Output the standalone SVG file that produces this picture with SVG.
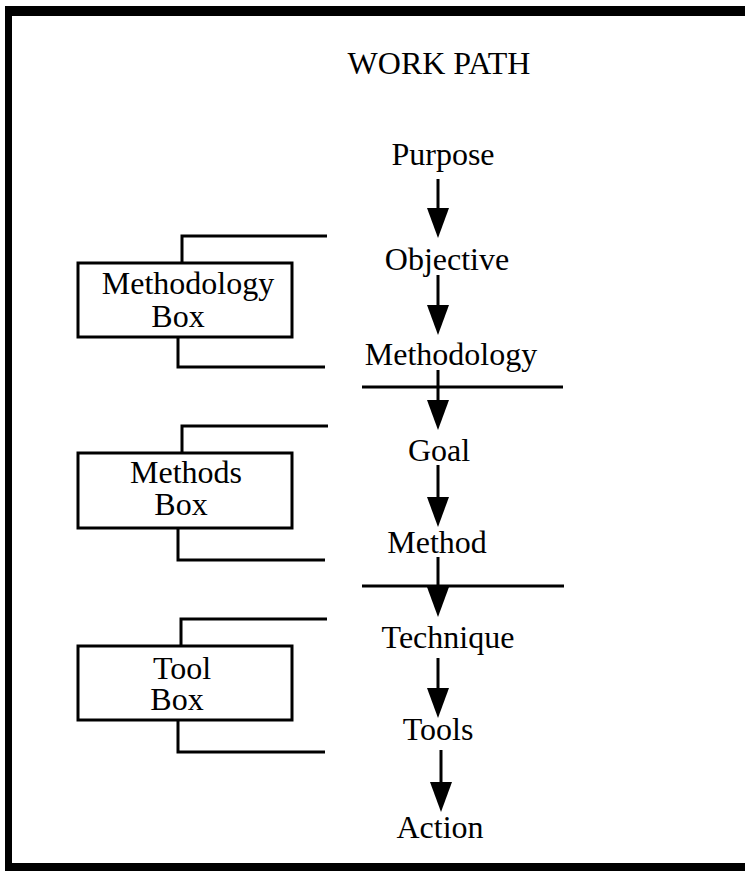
<svg xmlns="http://www.w3.org/2000/svg" width="745" height="871" viewBox="0 0 745 871">
  <style>
    text { font-family: "Liberation Serif", "Times New Roman", serif; font-size: 32px; fill: #000; }
    .c { text-anchor: middle; }
    .ln { stroke: #000; stroke-width: 3; fill: none; }
    .box { stroke: #000; stroke-width: 3; fill: #fff; }
    .arrow { stroke: #000; stroke-width: 3; fill: none; marker-end: url(#head); }
  </style>
  <defs>
    <marker id="head" markerUnits="userSpaceOnUse" viewBox="0 0 30 22" refX="10" refY="11" markerWidth="30" markerHeight="22" orient="auto">
      <path d="M0,0 L30,11 L0,22 Z" fill="#000"/>
    </marker>
  </defs>

  <rect width="745" height="871" fill="#fff"/>

  <!-- outer frame -->
  <g id="frame" fill="#000">
    <rect x="5" y="6" width="740" height="10"/>
    <rect x="5" y="6" width="7" height="865"/>
    <rect x="5" y="863" width="740" height="8"/>
  </g>

  <g id="title">
    <text class="c" x="439" y="74">WORK PATH</text>
  </g>

  <!-- work path steps -->
  <g id="purpose"><text class="c" x="443" y="165">Purpose</text></g>
  <g id="objective"><text class="c" x="447" y="270">Objective</text></g>
  <g id="methodology"><text class="c" x="451" y="365">Methodology</text></g>
  <g id="goal"><text class="c" x="439" y="461">Goal</text></g>
  <g id="method"><text class="c" x="437" y="553">Method</text></g>
  <g id="technique"><text class="c" x="448" y="648">Technique</text></g>
  <g id="tools"><text class="c" x="438" y="740">Tools</text></g>
  <g id="action"><text class="c" x="440" y="838">Action</text></g>

  <!-- boxes with brackets -->
  <g id="methodology-box">
    <path class="ln" d="M327,236 H182 V263"/>
    <path class="ln" d="M178,337 V367 H325"/>
    <rect class="box" x="78" y="263" width="214" height="74"/>
    <text class="c" x="188" y="294">Methodology</text>
    <text class="c" x="178" y="327">Box</text>
  </g>

  <g id="methods-box">
    <path class="ln" d="M328,426 H182 V453"/>
    <path class="ln" d="M178,528 V560 H325"/>
    <rect class="box" x="78" y="453" width="214" height="75"/>
    <text class="c" x="186" y="483">Methods</text>
    <text class="c" x="181" y="515">Box</text>
  </g>

  <g id="tool-box">
    <path class="ln" d="M327,619 H181 V646"/>
    <path class="ln" d="M178,720 V752 H325"/>
    <rect class="box" x="78" y="646" width="214" height="74"/>
    <text class="c" x="182" y="679">Tool</text>
    <text class="c" x="177" y="710">Box</text>
  </g>

  <!-- connectors -->
  <g id="connectors">
    <line class="ln" x1="362" y1="387" x2="563" y2="387"/>
    <line class="ln" x1="362" y1="586" x2="564" y2="586"/>
    <line class="arrow" x1="438" y1="179" x2="438" y2="218"/>
    <line class="arrow" x1="438" y1="275" x2="438" y2="315"/>
    <line class="arrow" x1="438" y1="370" x2="438" y2="410"/>
    <line class="arrow" x1="438" y1="465" x2="438" y2="507"/>
    <line class="arrow" x1="438" y1="557" x2="438" y2="597"/>
    <line class="arrow" x1="438" y1="658" x2="438" y2="698"/>
    <line class="arrow" x1="441" y1="750" x2="441" y2="792"/>
  </g>
</svg>
